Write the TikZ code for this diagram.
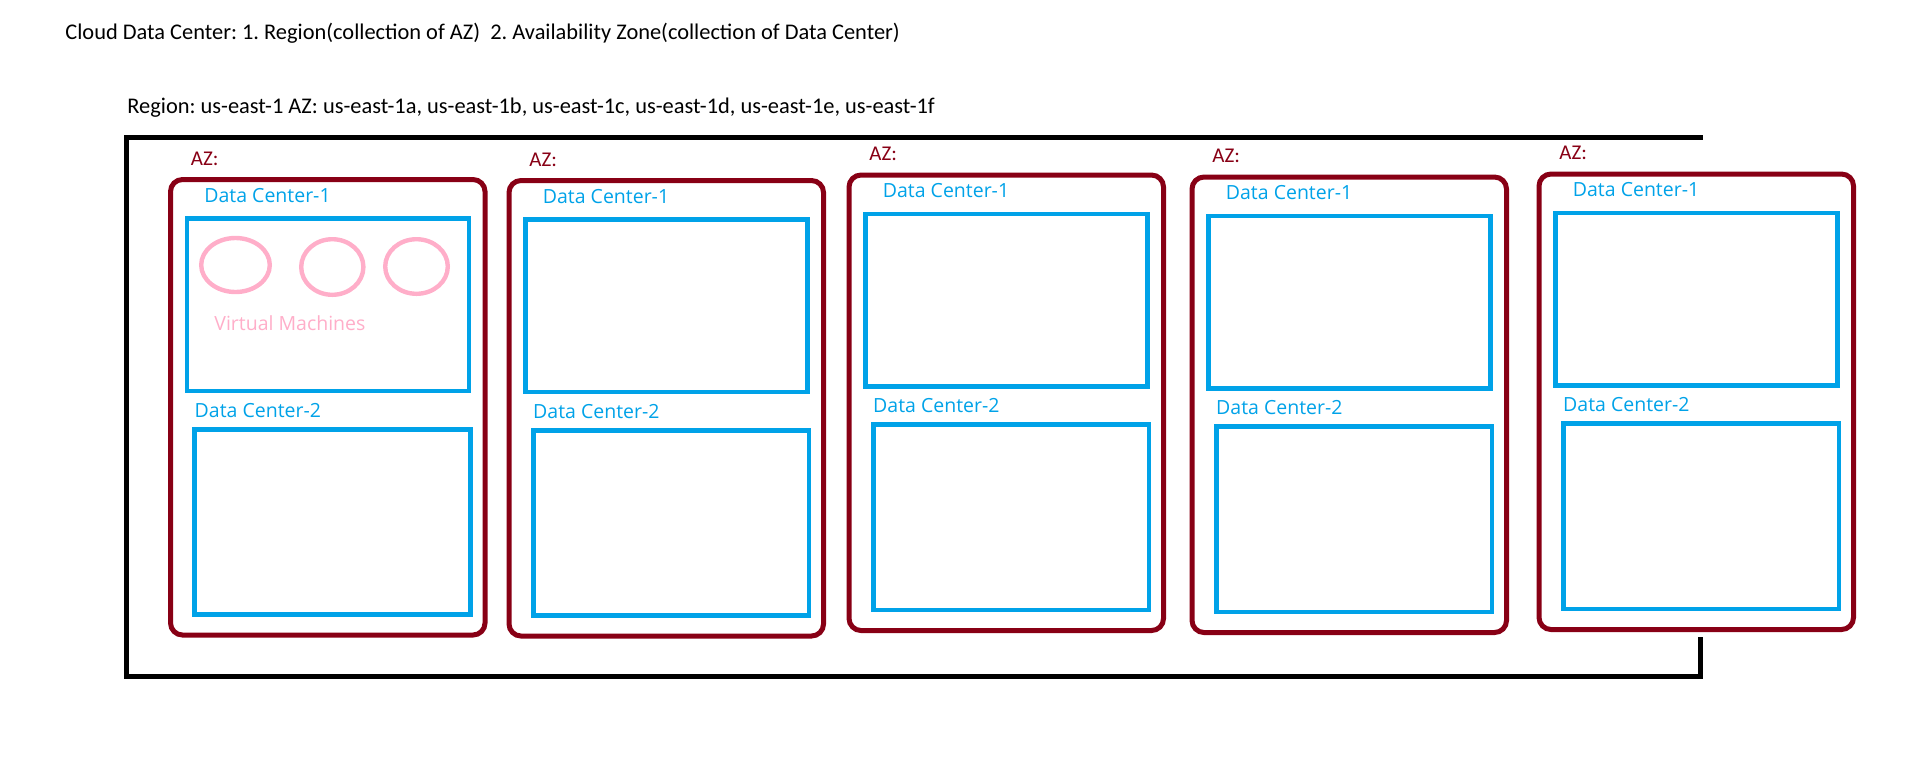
\documentclass[tikz,border=0pt]{standalone}
\usepackage{fontspec}
\setmainfont{Carlito}
\newfontfamily\paintfont{Open Sans}
\usepackage{tikz}
\frenchspacing
\definecolor{azred}{HTML}{880015}
\definecolor{dcblue}{HTML}{00A2E8}
\definecolor{vmpink}{HTML}{FFAEC9}
\tikzset{regionframe/.style = {draw=black, line width=2.5pt}}
\tikzset{azbox/.style = {draw=azred, line width=2.5pt, rounded corners=6pt}}
\tikzset{dcbox/.style = {draw=dcblue, line width=2.35pt}}
\tikzset{vmring/.style = {draw=vmpink, line width=2.2pt}}
\tikzset{plain/.style = {anchor=base west, inner sep=0pt,
                         font=\fontsize{11.2}{13}\selectfont}}
\tikzset{azlabel/.style = {anchor=base west, inner sep=0pt, text=azred,
                           font=\fontsize{10.5}{12}\selectfont}}
\tikzset{dclabel/.style = {anchor=base west, inner sep=0pt, text=dcblue,
                           font=\paintfont\fontsize{9.75}{12}\selectfont}}
\tikzset{vmlabel/.style = {dclabel, text=vmpink}}

\begin{document}
\begin{tikzpicture}[x=0.5pt, y=-0.5pt]
      \useasboundingbox (0, 0) rectangle (1914, 761);
      \node [plain] (title) at (65, 39) {Cloud Data Center: 1. Region(collection of AZ)\ \ 2. Availability Zone(collection of Data Center)};
      \node [plain] (region) at (127, 113) {Region: us-east-1 AZ: us-east-1a, us-east-1b, us-east-1c, us-east-1d, us-east-1e, us-east-1f};
      \draw [regionframe] (1700, 637) -- (1700, 676.5) -- (126.5, 676.5) -- (126.5, 137.5) -- (1702.7, 137.5);
      \foreach \x/\y [count=\i] in {170.5/179.5, 509/180.5, 849/175, 1192/177, 1539/174}
      {
        \begin{scope}[shift={(\x, \y)}]
          \draw [azbox] (0, 0) rectangle (314.5, 455.5);
          \node [azlabel] (az\i) at (20, -14.5) {AZ:};
          \draw [dcbox] (16.5, 39) rectangle (298.5, 211.5);
          \node [dclabel] (dcone\i) at (33.5, 22.5) {Data Center-1};
          \draw [dcbox] (24.3, 249.7) rectangle (300, 435);
          \node [dclabel] (dctwo\i) at (23.8, 237.5) {Data Center-2};
        \end{scope}
      }
      \draw [vmring] (235.5, 265) ellipse [x radius=17.15pt, y radius=13.5pt];
      \draw [vmring] (332.3, 267) ellipse [x radius=15.55pt, y radius=13.9pt];
      \draw [vmring] (416.5, 266.5) ellipse [x radius=15.65pt, y radius=13.65pt];
      \node [vmlabel] (vm) at (214, 330) {Virtual Machines};
    \end{tikzpicture}
\end{document}
